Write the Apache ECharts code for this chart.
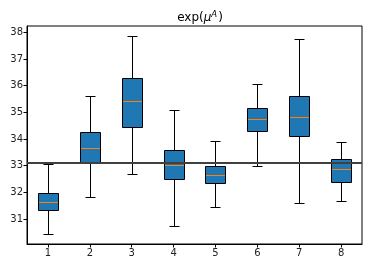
<!DOCTYPE html>
<html>
<head>
<meta charset="utf-8">
<script src="https://cdn.jsdelivr.net/npm/echarts@6/dist/echarts.min.js"></script>
<style>html,body{margin:0;padding:0;background:#fff;}#c{width:368px;height:268px;}</style>
</head>
<body>
<div id="c"></div>
<script>
const categories = ['1','2','3','4','5','6','7','8'];
const whiskerLow  = [30.44, 31.82, 32.68, 30.73, 31.44, 32.98, 31.59, 31.66];
const q1          = [31.35, 33.13, 34.46, 32.49, 32.34, 34.29, 34.10, 32.38];
const median      = [31.63, 33.65, 35.43, 33.01, 32.64, 34.75, 34.81, 32.88];
const q3          = [31.96, 34.25, 36.28, 33.58, 32.98, 35.15, 35.60, 33.24];
const whiskerHigh = [33.05, 35.63, 37.85, 35.08, 33.92, 36.05, 37.74, 33.88];
const refValue = 33.1;
const yTicks = [31, 32, 33, 34, 35, 36, 37, 38];

const data = categories.map((c, i) => [i + 1, whiskerLow[i], q1[i], median[i], q3[i], whiskerHigh[i]]);
const xTicks = categories.map((c, i) => i + 1);

const chart = echarts.init(document.getElementById('c'), null, {renderer: 'canvas'});
const font = 'DejaVu Sans';

function renderItem(params, api) {
  const x = api.value(0);
  const lo = api.coord([x, api.value(1)]);
  const b1 = api.coord([x, api.value(2)]);
  const md = api.coord([x, api.value(3)]);
  const b3 = api.coord([x, api.value(4)]);
  const hi = api.coord([x, api.value(5)]);
  const boxHalf = api.size([0.25, 0])[0];
  const capHalf = api.size([0.125, 0])[0];
  const cx = Math.round(lo[0]) + 0.5;
  const r = v => Math.round(v) + 0.5;
  const ln = {stroke: '#000', lineWidth: 1};
  const top = r(b3[1]), bot = r(b1[1]);
  return {
    type: 'group',
    children: [
      {type: 'line', shape: {x1: cx, y1: top, x2: cx, y2: r(hi[1])}, style: ln},
      {type: 'line', shape: {x1: cx, y1: bot, x2: cx, y2: r(lo[1])}, style: ln},
      {type: 'line', shape: {x1: cx - Math.round(capHalf), y1: r(hi[1]), x2: cx + Math.round(capHalf), y2: r(hi[1])}, style: ln},
      {type: 'line', shape: {x1: cx - Math.round(capHalf), y1: r(lo[1]), x2: cx + Math.round(capHalf), y2: r(lo[1])}, style: ln},
      {type: 'rect', shape: {x: cx - Math.round(boxHalf), y: top, width: Math.round(boxHalf) * 2, height: bot - top},
        style: {fill: '#1f77b4', stroke: '#000', lineWidth: 1}},
      {type: 'line', shape: {x1: cx - Math.round(boxHalf) + 0.5, y1: r(md[1]), x2: cx + Math.round(boxHalf) - 0.5, y2: r(md[1])},
        style: {stroke: '#ff7f0e', lineWidth: 1}}
    ]
  };
}

chart.setOption({
  animation: false,
  backgroundColor: '#fff',
  title: {
    text: '{n|exp(}{i|μ}{s|A}{n|)}',
    left: 195,
    top: 5,
    textAlign: 'center',
    textStyle: {
      fontWeight: 'normal',
      rich: {
        n: {fontFamily: font, fontSize: 12, fontWeight: 'normal', color: '#000'},
        i: {fontFamily: font, fontSize: 12, fontWeight: 'normal', fontStyle: 'italic', color: '#000'},
        s: {fontFamily: font, fontSize: 8.5, fontWeight: 'normal', fontStyle: 'italic', color: '#000', padding: [0, 1, 7, 0]}
      }
    }
  },
  grid: {left: 27, right: 6, top: 26, bottom: 24, show: true, borderColor: '#000', borderWidth: 1, containLabel: false},
  xAxis: {
    type: 'value', min: 0.5, max: 8.5,
    splitLine: {show: false},
    axisLine: {show: true, onZero: false, lineStyle: {color: '#000', width: 1}},
    axisTick: {show: true, length: 3.5, lineStyle: {color: '#000'}, customValues: xTicks},
    axisLabel: {fontFamily: font, fontSize: 10, color: '#222', margin: 4, customValues: xTicks,
      formatter: v => categories[Math.round(v) - 1] || ''}
  },
  yAxis: {
    type: 'value', min: 30.06, max: 38.24,
    splitLine: {show: false},
    axisLine: {show: true, lineStyle: {color: '#000', width: 1}},
    axisTick: {show: true, length: 3.5, lineStyle: {color: '#000'}, customValues: yTicks},
    axisLabel: {fontFamily: font, fontSize: 10, color: '#222', margin: 4, customValues: yTicks,
      formatter: v => String(Math.round(v))}
  },
  series: [{
    type: 'custom',
    renderItem: renderItem,
    data: data,
    encode: {x: 0, y: [1, 2, 3, 4, 5]},
    clip: false,
    z: 2,
    markLine: {
      silent: true,
      symbol: 'none',
      label: {show: false},
      z: 5,
      lineStyle: {color: '#404040', width: 2, type: 'solid'},
      data: [{yAxis: refValue}]
    }
  }]
});
</script>
</body>
</html>
